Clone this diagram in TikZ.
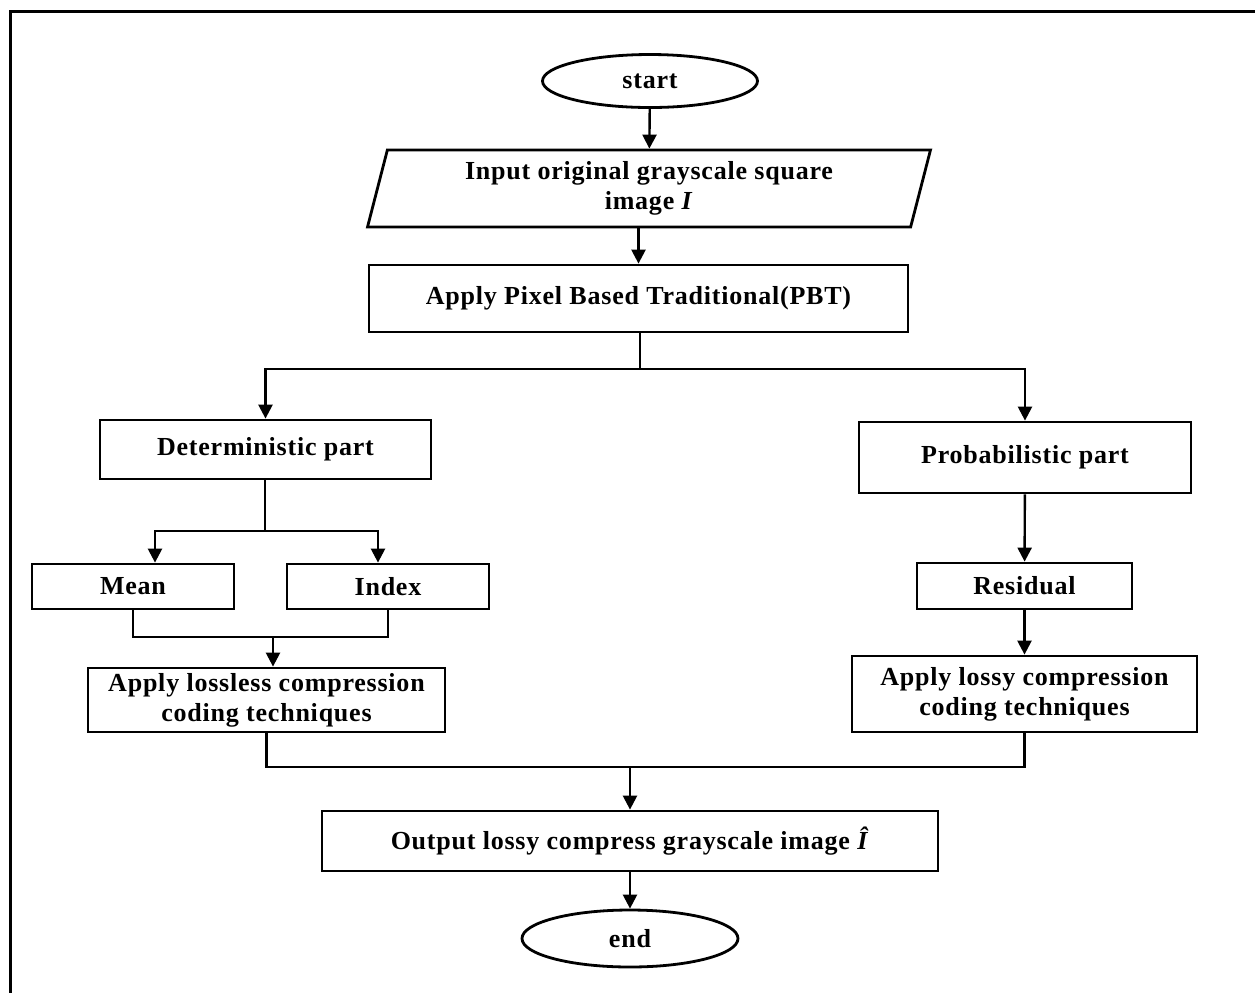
\documentclass[tikz,border=0pt]{standalone}
\usepackage{fontspec}
\setmainfont{Liberation Serif}[LetterSpace=3]
\usetikzlibrary{shapes.geometric, arrows.meta}

\begin{document}
\begin{tikzpicture}[x=0.5pt, y=-0.5pt,
		box/.style={draw, line width=1.4pt, rectangle, align=center, inner sep=2pt, font=\fontsize{13}{15}\selectfont\bfseries},
		term/.style={box, ellipse, inner sep=0pt},
		arr/.style={line width=1.2pt, -{Triangle[length=7pt,width=7pt]}},
		ln/.style={line width=1.2pt}]
				\useasboundingbox (0,0) rectangle (1255,993);
				\draw[line width=1.5pt] (1255,11) -- (10,11) -- (10,993);
				
				\node (start) at (650,81) [term, minimum width=107.5pt, minimum height=26.5pt] {start};
				\node (input) at (649,188.5) [box, trapezium, trapezium left angle=77, trapezium right angle=103, trapezium stretches=true, minimum width=281.5pt, minimum height=38.5pt] {Input original grayscale square\\image \textit{I}};
				\node (pbt) at (638.5,298.5) [box, minimum width=269.5pt, minimum height=33.5pt] {Apply Pixel Based Traditional(PBT)};
				
				\node (det) at (265.5,449.5) [box, minimum width=165.5pt, minimum height=29.5pt] {Deterministic part};
				\node (prob) at (1025,457.5) [box, minimum width=166pt, minimum height=35.5pt] {Probabilistic part};
				
				\node (mean) at (133,586.5) [box, minimum width=101pt, minimum height=22.5pt] {Mean};
				\node (index) at (388,586.5) [box, minimum width=101pt, minimum height=22.5pt] {Index};
				\node (residual) at (1024.5,586) [box, minimum width=107.5pt, minimum height=23pt] {Residual};
				
				\node (lossless) at (266.5,700) [box, minimum width=178.5pt, minimum height=32pt] {Apply lossless compression\\coding techniques};
				\node (lossy) at (1024.5,694) [box, minimum width=172.5pt, minimum height=38pt] {Apply lossy compression\\coding techniques};
				
				\node (output) at (630,841) [box, minimum width=308pt, minimum height=30pt] {Output lossy compress grayscale image \textit{Î}};
				\node (end) at (630,938.5) [term, minimum width=108pt, minimum height=28.5pt] {end};
				
				\coordinate (split) at (640,369);
				\coordinate (dsplit) at (265,531);
				\coordinate (mjoin) at (273,637);
				\coordinate (ojoin) at (630,767);
				
				\draw[arr] (start) -- (input);
				\draw[arr] (input.south -| pbt.north) -- (pbt.north);
				\draw[ln] (pbt.south -| split) -- (split);
				\draw[arr] (split) -| (det.north);
				\draw[arr] (split) -| (prob.north);
				
				\draw[ln] (det.south -| dsplit) -- (dsplit);
				\draw[arr] (dsplit) -| ([xshift=11pt]mean.north);
				\draw[arr] (dsplit) -| ([xshift=-5pt]index.north);
				\draw[ln] (mean.south) |- (mjoin) -| (index.south);
				\draw[arr] (mjoin) -- (mjoin |- lossless.north);
				
				\draw[arr] (prob) -- (residual);
				\draw[arr] (residual) -- (lossy);
				
				\draw[ln] (lossless.south) |- (ojoin) -| (lossy.south);
				\draw[arr] (ojoin) -- (output);
				\draw[arr] (output) -- (end);
			\end{tikzpicture}
\end{document}
